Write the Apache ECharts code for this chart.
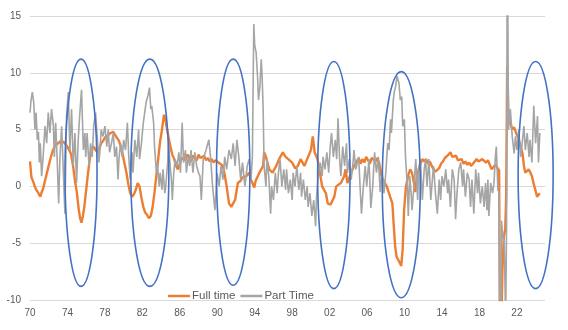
<!DOCTYPE html>
<html><head><meta charset="utf-8">
<script src="https://cdn.jsdelivr.net/npm/echarts@6/dist/echarts.min.js"></script>
<style>html,body{margin:0;padding:0;background:#fff}#c{width:568px;height:330px}</style>
</head><body><div id="c"></div>
<script>
// x values are years since 1970
const seriesNames = ['Full time', 'Part Time'];
const fullTime = [
[0.0,2.2],[0.15,0.8],[0.35,0.4],[0.6,-0.2],[0.9,-0.6],[1.1,-0.9],[1.25,-0.5],[1.4,-0.2],[1.6,0.5],[1.9,1.5],[2.2,2.5],[2.45,3.2],[2.7,3.6],[3.0,3.8],[3.3,4.0],[3.6,3.9],[3.9,3.6],[4.2,3.2],[4.4,2.8],[4.6,1.8],[4.8,0.5],[5.0,-0.5],[5.2,-2.0],[5.35,-2.8],[5.5,-3.2],[5.65,-2.6],[5.8,-1.8],[6.0,-0.3],[6.2,1.2],[6.4,2.5],[6.6,3.3],[6.8,3.5],[7.0,3.2],[7.2,3.0],[7.4,3.3],[7.6,3.8],[7.8,4.0],[8.0,4.3],[8.3,4.5],[8.6,4.7],[8.9,4.8],[9.1,4.5],[9.3,4.4],[9.5,4.0],[9.7,3.5],[9.9,2.8],[10.1,2.0],[10.3,1.2],[10.5,0.2],[10.7,-0.6],[10.9,-0.9],[11.1,-0.7],[11.3,-0.3],[11.5,0.3],[11.7,0.0],[11.9,-1.0],[12.1,-1.8],[12.3,-2.3],[12.5,-2.5],[12.7,-2.8],[12.9,-2.6],[13.1,-1.8],[13.3,-0.5],[13.5,1.0],[13.7,2.5],[13.9,4.0],[14.1,5.0],[14.3,6.3],[14.45,6.0],[14.6,5.2],[14.8,4.3],[15.0,3.5],[15.2,2.8],[15.4,2.4],[15.6,1.8],[15.8,1.5],[16.0,2.0],[16.2,2.5],[16.4,2.6],[16.6,2.3],[16.8,2.8],[17.0,2.6],[17.2,2.2],[17.4,2.7],[17.6,2.5],[17.8,2.3],[18.0,2.8],[18.2,2.5],[18.4,2.4],[18.6,2.7],[18.8,2.3],[19.0,2.5],[19.2,2.2],[19.4,2.4],[19.6,2.1],[19.8,2.3],[20.0,2.2],[20.3,2.0],[20.6,1.8],[20.8,1.0],[21.0,0.0],[21.25,-1.5],[21.5,-1.8],[21.7,-1.5],[21.9,-1.2],[22.2,0.3],[22.5,0.5],[22.7,0.8],[23.1,0.9],[23.4,1.2],[23.6,0.6],[23.95,-0.1],[24.1,0.5],[24.5,1.2],[24.9,1.8],[25.0,3.0],[25.2,2.6],[25.55,1.5],[25.9,1.2],[26.3,1.8],[26.6,2.4],[27.0,3.0],[27.3,2.6],[27.5,2.6],[28.0,2.1],[28.3,1.6],[28.6,1.8],[28.9,2.4],[29.3,1.8],[29.6,2.4],[30.0,3.2],[30.2,4.4],[30.4,3.0],[30.7,2.4],[30.9,1.5],[31.2,0.0],[31.6,-0.6],[31.8,-1.5],[32.1,-1.6],[32.5,-0.9],[32.7,0.0],[33.2,0.3],[33.55,0.9],[33.7,1.5],[33.9,0.3],[34.3,1.2],[34.6,1.8],[34.9,2.2],[35.1,2.5],[35.3,2.0],[35.5,2.4],[35.7,2.1],[35.9,2.6],[36.1,2.3],[36.3,2.0],[36.5,2.5],[36.7,2.4],[36.9,2.2],[37.1,2.5],[37.3,2.0],[37.5,1.0],[37.7,0.6],[37.9,0.3],[38.1,0.0],[38.3,-0.5],[38.5,-1.0],[38.7,-1.5],[38.85,-3.5],[39.0,-5.3],[39.15,-6.2],[39.35,-6.5],[39.5,-6.6],[39.65,-7.0],[39.8,-5.5],[39.95,-2.1],[40.15,0.0],[40.4,1.0],[40.6,1.5],[40.8,1.2],[41.0,0.3],[41.15,-0.5],[41.3,0.8],[41.5,1.5],[41.7,2.0],[41.9,2.4],[42.1,2.2],[42.3,2.4],[42.5,2.0],[42.7,2.2],[42.9,1.8],[43.1,1.5],[43.3,1.3],[43.5,1.2],[43.7,1.6],[43.9,2.0],[44.1,2.2],[44.3,2.5],[44.5,2.6],[44.7,2.8],[44.9,3.0],[45.1,2.6],[45.3,2.5],[45.5,2.7],[45.7,2.3],[45.9,2.2],[46.1,2.4],[46.3,2.0],[46.5,2.2],[46.7,1.9],[46.9,2.1],[47.1,1.8],[47.3,2.0],[47.5,2.1],[47.7,2.4],[47.9,2.2],[48.1,2.1],[48.3,2.4],[48.5,2.5],[48.7,2.1],[48.9,2.3],[49.1,1.9],[49.3,1.5],[49.5,1.6],[49.7,1.9],[49.9,1.8],[50.1,1.4],[50.2,-14],[50.35,-12],[50.45,-7.4],[50.6,-4.4],[50.75,-3.8],[50.85,-1.0],[50.96,10.6],[51.1,6.2],[51.3,5.6],[51.5,5.0],[51.7,5.2],[51.9,5.3],[52.05,4.4],[52.2,4.1],[52.4,3.5],[52.6,2.9],[52.75,1.8],[52.9,1.2],[53.1,1.3],[53.25,1.5],[53.45,1.2],[53.6,0.9],[53.8,0.2],[54.0,-0.4],[54.15,-0.9],[54.3,-0.9],[54.45,-0.6]
];
const partTime = [
[0.0,6.5],[0.1,7.5],[0.25,8.3],[0.4,7.4],[0.53,5.0],[0.65,6.5],[0.78,4.1],[0.9,4.8],[1.0,2.1],[1.1,3.8],[1.24,0.9],[1.4,2.6],[1.6,5.3],[1.78,3.8],[1.95,6.5],[2.13,4.7],[2.3,6.8],[2.5,5.3],[2.6,2.6],[2.74,5.6],[2.9,2.4],[3.06,-1.5],[3.2,2.6],[3.38,5.3],[3.55,1.5],[3.73,-2.4],[3.9,6.2],[4.09,8.3],[4.26,3.2],[4.44,6.8],[4.62,1.8],[4.8,4.7],[4.97,0.3],[5.15,4.1],[5.3,6.2],[5.5,8.5],[5.7,3.2],[5.86,4.7],[5.95,2.6],[6.1,4.7],[6.3,1.8],[6.47,3.8],[6.65,2.6],[6.8,5.3],[7.0,6.5],[7.2,4.1],[7.35,2.1],[7.46,3.0],[7.6,5.0],[7.8,4.4],[8.0,5.3],[8.2,3.5],[8.35,5.0],[8.5,3.0],[8.7,3.8],[8.9,4.7],[9.05,2.6],[9.24,3.5],[9.4,0.6],[9.5,2.4],[9.67,3.8],[9.85,2.6],[10.0,4.1],[10.2,3.2],[10.4,5.6],[10.55,2.6],[10.7,0.6],[10.9,3.0],[11.0,1.2],[11.2,4.1],[11.4,2.6],[11.6,5.0],[11.7,2.4],[11.9,3.8],[12.1,5.6],[12.3,6.8],[12.4,7.4],[12.6,8.0],[12.76,8.7],[12.9,6.8],[13.0,7.1],[13.2,5.6],[13.3,3.5],[13.5,1.2],[13.6,2.1],[13.8,0.0],[13.9,1.2],[14.1,-0.3],[14.2,1.5],[14.4,-0.6],[14.5,0.0],[14.7,2.1],[14.8,3.8],[15.0,1.5],[15.1,0.6],[15.2,-1.2],[15.35,1.2],[15.5,2.4],[15.7,1.8],[15.9,3.0],[16.07,1.2],[16.25,5.6],[16.4,2.1],[16.6,3.2],[16.7,1.2],[16.9,2.6],[17.06,1.8],[17.2,3.2],[17.4,1.2],[17.6,3.0],[17.8,1.8],[18.0,1.2],[18.15,0.9],[18.3,-1.2],[18.5,2.4],[18.8,3.2],[19.1,4.1],[19.3,2.4],[19.5,0.0],[19.75,-2.1],[19.97,1.2],[20.2,0.0],[20.4,1.8],[20.6,0.6],[20.8,2.6],[21.0,1.5],[21.25,3.2],[21.5,2.4],[21.7,3.8],[21.9,1.8],[22.1,4.1],[22.3,2.6],[22.5,0.6],[22.7,2.1],[22.95,0.0],[23.2,1.8],[23.4,2.4],[23.6,0.6],[23.75,2.6],[23.9,14.3],[24.0,12.4],[24.15,11.8],[24.3,9.7],[24.4,7.6],[24.55,8.8],[24.7,11.2],[24.8,9.4],[24.9,6.8],[25.0,1.8],[25.2,0.0],[25.3,2.4],[25.5,0.9],[25.7,-2.4],[25.8,0.0],[26.0,-1.2],[26.2,1.2],[26.4,-0.6],[26.5,0.9],[26.7,2.4],[26.9,0.0],[27.1,1.5],[27.3,-0.3],[27.4,1.5],[27.6,-0.6],[27.8,0.6],[28.0,-1.2],[28.1,1.2],[28.3,0.0],[28.5,1.8],[28.7,-0.3],[28.9,1.2],[29.0,-0.9],[29.2,0.6],[29.4,-1.2],[29.6,0.0],[29.7,-1.8],[29.9,-0.6],[30.1,-2.6],[30.3,-1.2],[30.5,-3.5],[30.6,-0.9],[30.8,1.2],[31.0,2.1],[31.2,0.9],[31.3,2.6],[31.5,1.5],[31.7,3.0],[31.9,1.2],[32.06,3.5],[32.2,4.7],[32.4,2.6],[32.6,4.1],[32.75,2.4],[32.9,6.0],[33.05,2.6],[33.2,0.9],[33.4,3.5],[33.6,1.8],[33.8,3.8],[33.9,1.2],[34.1,2.4],[34.3,0.6],[34.5,2.1],[34.6,3.2],[34.8,1.5],[35.1,2.6],[35.25,0.0],[35.4,-2.4],[35.6,0.0],[35.8,1.8],[35.96,0.0],[36.2,2.4],[36.4,-1.9],[36.6,0.0],[36.8,3.0],[37.0,1.2],[37.2,2.6],[37.4,-0.5],[37.6,1.5],[37.8,-0.6],[38.0,1.2],[38.2,3.8],[38.35,3.2],[38.5,5.9],[38.6,4.7],[38.8,7.6],[38.9,8.3],[39.05,8.8],[39.2,9.7],[39.4,9.1],[39.55,7.6],[39.7,7.9],[39.8,5.3],[39.98,5.9],[40.1,2.6],[40.3,0.0],[40.4,-2.6],[40.55,0.9],[40.7,-0.6],[40.8,-2.1],[41.0,0.0],[41.2,2.4],[41.4,-1.2],[41.5,1.5],[41.7,2.4],[41.9,-1.2],[42.1,1.5],[42.25,2.4],[42.4,0.0],[42.6,2.4],[42.8,-1.2],[43.0,0.9],[43.1,1.8],[43.3,-0.6],[43.5,-2.4],[43.7,0.6],[43.85,-1.2],[44.0,0.9],[44.2,0.0],[44.4,1.5],[44.6,-0.6],[44.7,0.6],[44.9,-1.8],[45.1,1.5],[45.3,0.6],[45.45,-2.9],[45.6,-0.6],[45.8,1.5],[46.0,2.1],[46.2,0.0],[46.3,1.5],[46.5,-0.9],[46.7,1.2],[46.9,0.6],[47.05,-1.8],[47.2,0.6],[47.4,-2.4],[47.6,1.5],[47.8,-0.6],[47.9,1.2],[48.1,-1.5],[48.3,0.0],[48.5,-1.8],[48.65,0.3],[48.8,-2.1],[48.9,0.6],[49.0,-2.6],[49.2,0.3],[49.4,-0.6],[49.55,0.3],[49.7,2.6],[49.8,3.5],[49.97,-0.3],[50.1,-0.5],[50.2,-25],[50.35,-3.0],[50.5,-4.4],[50.65,-5.0],[50.8,-12],[50.9,-3],[50.97,25],[51.1,5.0],[51.3,6.8],[51.5,4.4],[51.7,2.9],[51.85,4.4],[52.0,3.2],[52.2,5.0],[52.4,2.6],[52.6,4.1],[52.75,5.3],[52.9,3.2],[53.1,4.7],[53.3,2.6],[53.4,4.1],[53.6,2.1],[53.8,7.1],[54.0,3.8],[54.2,6.2],[54.3,2.1],[54.45,4.7]
];
// annotation ellipses: center year offset, top value, bottom value, half width (years)
const ellipseCenter = [5.45, 12.8, 21.7, 32.45, 39.65, 54.0];
const ellipseTop = [11.2, 11.2, 11.2, 11.0, 10.1, 11.0];
const ellipseBottom = [-8.8, -8.8, -8.7, -9.0, -9.8, -9.0];
const ellipseHalfWidth = [1.71, 2.03, 1.78, 1.73, 2.03, 1.87];
const yTicks = {min: -10, max: 15, step: 5};
const baseYear = 1970;

const ellipseData = ellipseCenter.map((c, i) => [c, ellipseTop[i], ellipseBottom[i], ellipseHalfWidth[i]]);
const font = 'Liberation Sans, Arial, sans-serif';
const chart = echarts.init(document.getElementById('c'), null, {renderer: 'canvas'});
chart.setOption({
  animation: false,
  backgroundColor: '#fff',
  grid: {left: 30, right: 23, top: 16, bottom: 30, containLabel: false},
  legend: {
    data: [{name: seriesNames[0], icon: 'rect'}, {name: seriesNames[1], icon: 'rect'}],
    left: 163, top: 285, itemWidth: 22, itemHeight: 2.5, itemGap: 5,
    textStyle: {color: '#595959', fontSize: 11.5, fontFamily: font, padding: [0, 0, 0, -3]}
  },
  xAxis: {
    type: 'value', min: 0, max: 55, interval: 4,
    axisLine: {show: true, lineStyle: {color: '#d9d9d9'}},
    axisTick: {show: false}, splitLine: {show: false},
    axisLabel: {color: '#595959', fontSize: 10, fontFamily: font, margin: 8, showMaxLabel: false,
      formatter: v => String((baseYear + v) % 100).padStart(2, '0')}
  },
  yAxis: {
    type: 'value', min: yTicks.min, max: yTicks.max, interval: yTicks.step,
    axisLine: {show: false}, axisTick: {show: false},
    splitLine: {lineStyle: {color: '#d9d9d9', width: 1}},
    axisLabel: {color: '#595959', fontSize: 10, fontFamily: font, margin: 9}
  },
  series: [
    {name: seriesNames[0], type: 'line', data: fullTime, showSymbol: false, symbol: 'none',
     lineStyle: {color: '#ED7D31', width: 2.4}, itemStyle: {color: '#ED7D31'}, z: 2},
    {name: seriesNames[1], type: 'line', data: partTime, showSymbol: false, symbol: 'none',
     lineStyle: {color: '#A5A5A5', width: 1.6}, itemStyle: {color: '#A5A5A5'}, z: 3},
    {name: 'ellipses', type: 'custom', data: ellipseData, clip: false, z: 5, silent: true,
     renderItem: function (params, api) {
       const x = api.value(0), t = api.value(1), b = api.value(2), hw = api.value(3);
       const top = api.coord([x, t]);
       const bot = api.coord([x, b]);
       const left = api.coord([x - hw, t]);
       return {
         type: 'ellipse',
         shape: {cx: top[0], cy: (top[1] + bot[1]) / 2, rx: top[0] - left[0], ry: (bot[1] - top[1]) / 2},
         style: {fill: null, stroke: '#4472C4', lineWidth: 1.6}
       };
     }}
  ]
});
</script></body></html>
